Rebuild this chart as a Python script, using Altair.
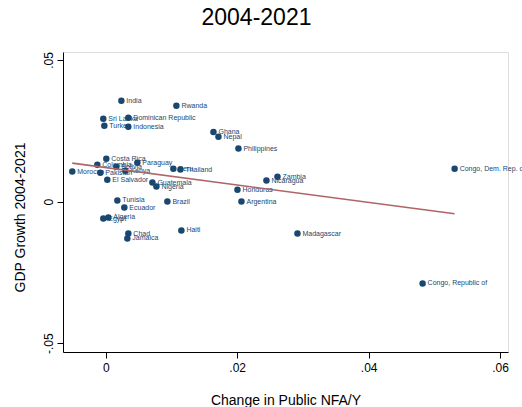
import altair as alt
import pandas as pd

# Country-level observations: change in public NFA/Y vs. GDP growth, 2004-2021
countries = [
    "India", "Rwanda", "Sri Lanka", "Dominican Republic", "Turkey", "Indonesia",
    "Ghana", "Nepal", "Philippines", "Costa Rica", "Colombia", "Bolivia",
    "Paraguay", "Kenya", "Morocco", "Pakistan", "El Salvador", "Peru",
    "Thailand", "Guatemala", "Nigeria", "Tunisia", "Ecuador", "Brazil",
    "Egypt", "Algeria", "Chad", "Jamaica", "Haiti", "Honduras", "Argentina",
    "Nicaragua", "Zambia", "Madagascar", "Congo, Dem. Rep. of", "Congo, Republic of",
]
nfa_change = [
    0.00238, 0.01075, -0.00037, 0.00344, -0.00021, 0.00344,
    0.01639, 0.01715, 0.02019, 0.00009, -0.00128, 0.00161,
    0.00481, 0.00298, -0.00509, -0.00082, 0.00024, 0.01029,
    0.01136, 0.00710, 0.00771, 0.00177, 0.00283, 0.00938,
    -0.00037, 0.00040, 0.00344, 0.00329, 0.01151, 0.02004, 0.02065,
    0.02445, 0.02613, 0.02917, 0.05308, 0.04821,
]
gdp_growth = [
    0.0356, 0.0338, 0.0292, 0.0296, 0.0268, 0.0264,
    0.0246, 0.0229, 0.0187, 0.0151, 0.0130, 0.0123,
    0.0137, 0.0109, 0.0106, 0.0102, 0.0077, 0.0116,
    0.0113, 0.0067, 0.0053, 0.0004, -0.0021, 0.0000,
    -0.0060, -0.0056, -0.0113, -0.0130, -0.0102, 0.0042, 0.0000,
    0.0074, 0.0088, -0.0113, 0.0116, -0.0289,
]

x_ticks = [0, 0.02, 0.04, 0.06]
y_ticks = [-0.05, 0, 0.05]

df = pd.DataFrame({"country": countries, "nfa": nfa_change, "growth": gdp_growth})

NAVY = "#1a476f"
MAROON = "#b06466"
FONT = "Liberation Sans"

# Stata-style tick labels: ".02", "-.05", "0"
stata_fmt = "(datum.value < 0 ? '-' : '') + replace(toString(abs(datum.value)), '0.', '.')"

x_enc = alt.X(
    "nfa:Q",
    scale=alt.Scale(domain=[-0.0065, 0.0612], nice=False, zero=False),
    axis=alt.Axis(
        title="Change in Public NFA/Y", values=x_ticks, labelExpr=stata_fmt,
        grid=False, domainColor="#000000", tickColor="#000000", tickSize=6,
        labelFont=FONT, labelFontSize=12, labelColor="#000000", labelPadding=4,
        titleFont=FONT, titleFontSize=14, titleFontWeight="normal",
        titleColor="#000000", titlePadding=20,
    ),
)
y_enc = alt.Y(
    "growth:Q",
    scale=alt.Scale(domain=[-0.0531, 0.0528], nice=False, zero=False),
    axis=alt.Axis(
        title="GDP Growth 2004-2021", values=y_ticks, labelExpr=stata_fmt,
        grid=False, domainColor="#000000", tickColor="#000000", tickSize=6,
        labelAngle=270, labelAlign="center", labelBaseline="bottom",
        labelFont=FONT, labelFontSize=12, labelColor="#000000", labelPadding=2,
        titleFont=FONT, titleFontSize=14, titleFontWeight="normal",
        titleColor="#000000", titleX=-43, titleY=165, titleBaseline="middle",
    ),
)

base = alt.Chart(df)

points = base.mark_circle(size=42, color=NAVY, opacity=1).encode(x=x_enc, y=y_enc)

labels = base.mark_text(
    align="left", baseline="middle", dx=5, fontSize=7, font=FONT, color=NAVY
).encode(x="nfa:Q", y="growth:Q", text="country:N")

fit = base.transform_regression("nfa", "growth").mark_line(
    color=MAROON, strokeWidth=1.6
).encode(x="nfa:Q", y="growth:Q")

chart = (
    alt.layer(points, labels, fit)
    .properties(
        width=445,
        height=300,
        title=alt.TitleParams(
            "2004-2021", font=FONT, fontSize=23, fontWeight="normal",
            color="#000000", anchor="middle", dx=-29, offset=22,
        ),
        autosize=alt.AutoSizeParams(type="none"),
        padding={"left": 63, "top": 52, "right": 14, "bottom": 55},
    )
    .configure_view(stroke=None)
    .configure(background="#ffffff")
)

chart.save("out.html", embed_options={"renderer": "svg", "actions": False})
